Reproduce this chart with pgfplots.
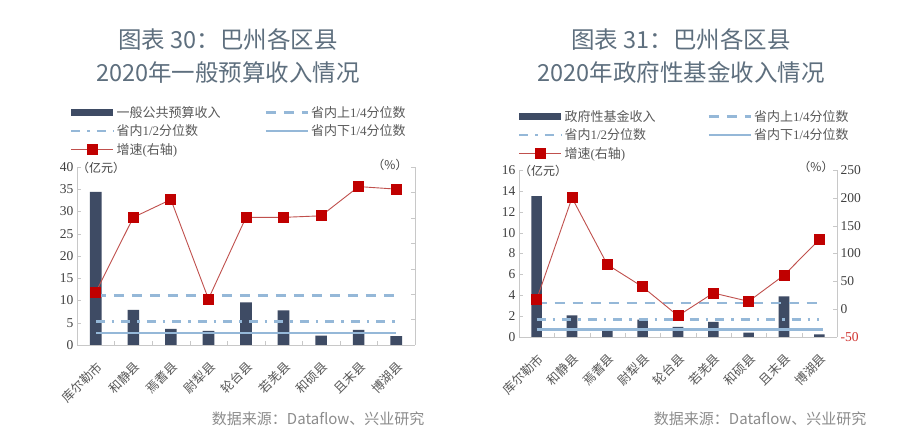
\documentclass[border=0pt]{standalone}
\usepackage{pgfplots}
\pgfplotsset{compat=1.18}
\usepackage{fontspec}
\setmainfont{Liberation Serif}
\newfontfamily\cjk{Noto Sans CJK SC}

\definecolor{barcol}{HTML}{3E4B64}
\definecolor{qcol}{HTML}{95B8D8}
\definecolor{redm}{HTML}{C00000}
\definecolor{redl}{HTML}{C0504D}
\definecolor{titlecol}{HTML}{5E6F7E}
\definecolor{axcol}{HTML}{C8C8C8}
\definecolor{tickcol}{HTML}{404040}
\definecolor{legcol}{HTML}{595959}
\definecolor{srccol}{HTML}{8C8C8C}
\definecolor{negred}{HTML}{D0312D}

\pgfplotsset{
  basechart/.style={
    scale only axis, xmin=-0.5, xmax=8.5,
    axis x line*=bottom, axis y line*=left,
    axis line style={draw=axcol, -},
    tick align=inside, major tick length=4pt, minor tick length=4pt,
    tick style={draw=axcol},
    xtick={0,...,8}, major x tick style={draw=none},
    minor xtick={-0.5,0.5,...,8.5},
    xticklabel style={yshift=-14pt, xshift=0pt, rotate=45, anchor=north east,
      font=\cjk\fontsize{12.5}{14}\selectfont, text=legcol, inner sep=1pt},
    yticklabel style={font=\fontsize{13.5}{16}\selectfont, text=tickcol},
    /pgf/number format/assume math mode=true,
    clip=false,
    legend style={draw=none, fill=none, anchor=north west,
      font=\fontsize{13}{15}\selectfont, text=legcol, row sep=2pt},
    legend cell align=left,
    legend columns=2,
    legend image code/.code={\draw[##1] (0pt,0pt) -- (42pt,0pt);},
  },
  twinchart/.style={
    scale only axis, xmin=-0.5, xmax=8.5,
    axis x line=none, axis y line*=right,
    axis line style={draw=axcol, -},
    tick align=inside, major tick length=4pt, tick style={draw=axcol},
    yticklabel style={font=\fontsize{13.5}{16}\selectfont, text=tickcol},
    clip=false,
  },
  qline/.style={color=qcol, line width=2.5pt},
  rate/.style={color=redl, line width=0.9pt, mark=square*, mark size=5pt,
    mark options={fill=redm, draw=redm, solid}},
  rateleg/.style={legend image code/.code={\draw[mark repeat=2,mark phase=2,##1] plot coordinates {(0pt,0pt) (21pt,0pt) (42pt,0pt)};}},
  barleg/.style={legend image code/.code={\fill[barcol] (0pt,-3.5pt) rectangle (42pt,3.5pt);}},
}

\begin{document}
\begin{tikzpicture}[x=1pt,y=1pt]
\path[use as bounding box, fill=white] (0,0) rectangle (900,444);

% titles
\node[font=\cjk\fontsize{23.5}{26}\selectfont, text=titlecol] at (228,404) {图表 30：巴州各区县};
\node[font=\cjk\fontsize{23.5}{26}\selectfont, text=titlecol] at (228,371) {2020年一般预算收入情况};
\node[font=\cjk\fontsize{23.5}{26}\selectfont, text=titlecol] at (681,404) {图表 31：巴州各区县};
\node[font=\cjk\fontsize{23.5}{26}\selectfont, text=titlecol] at (681,371) {2020年政府性基金收入情况};

% ---------- left chart ----------
\begin{axis}[basechart, at={(77pt,99pt)}, anchor=south west,
  width=338pt, height=178pt,
  ymin=0, ymax=40, ytick={0,5,...,40},
  xticklabels={库尔勒市,和静县,焉耆县,尉犁县,轮台县,若羌县,和硕县,且末县,博湖县},
  legend style={at={(-0.03,1.365)}, /tikz/every even column/.append style={column sep=42pt}}]
\addplot[ybar, bar width=0.31, fill=barcol, draw=none, barleg]
  coordinates {(0,34.4) (1,7.9) (2,3.6) (3,3.15) (4,9.6) (5,7.8) (6,2.1) (7,3.4) (8,2.0)};
\addlegendentry{{\cjk 一般公共预算收入}}
\addplot[qline, dash pattern=on 10pt off 8pt] coordinates {(0,11.1) (8,11.1)};
\addlegendentry{{\cjk 省内上}1/4{\cjk 分位数}}
\addplot[qline, dash pattern=on 9pt off 7pt on 2.5pt off 7pt] coordinates {(0,5.3) (8,5.3)};
\addlegendentry{{\cjk 省内}1/2{\cjk 分位数}}
\addplot[qline] coordinates {(0,2.7) (8,2.7)};
\addlegendentry{{\cjk 省内下}1/4{\cjk 分位数}}
\addlegendimage{rate, rateleg}
\addlegendentry{{\cjk 增速}({\cjk 右轴})}
\node[anchor=west, inner sep=0pt, font=\cjk\fontsize{12}{14}\selectfont, text=tickcol] at (rel axis cs:0,0.995) {（亿元）};
\node[inner sep=0pt, font=\cjk\fontsize{12}{14}\selectfont, text=tickcol] at (rel axis cs:0.926,1.01) {（\%）};
\end{axis}
\begin{axis}[twinchart, at={(77pt,99pt)}, anchor=south west,
  width=338pt, height=178pt,
  ymin=0, ymax=70, ytick={0,10,...,70},
  yticklabel style={opacity=0}]
\addplot[rate] coordinates {(0,20.7) (1,50.2) (2,57.2) (3,18.1) (4,50.2) (5,50.2) (6,50.8) (7,62.3) (8,61.3)};
\end{axis}

% ---------- right chart ----------
\begin{axis}[basechart, at={(519pt,107pt)}, anchor=south west,
  width=318pt, height=167pt,
  ymin=0, ymax=16, ytick={0,2,...,16},
  xticklabels={库尔勒市,和静县,焉耆县,尉犁县,轮台县,若羌县,和硕县,且末县,博湖县},
  legend style={at={(-0.013,1.383)}, /tikz/every even column/.append style={column sep=50pt}}]
\addplot[ybar, bar width=0.30, fill=barcol, draw=none, barleg]
  coordinates {(0,13.5) (1,2.08) (2,0.64) (3,1.66) (4,0.96) (5,1.44) (6,0.42) (7,3.9) (8,0.25)};
\addlegendentry{{\cjk 政府性基金收入}}
\addplot[qline, dash pattern=on 10pt off 8pt] coordinates {(0,3.25) (8,3.25)};
\addlegendentry{{\cjk 省内上}1/4{\cjk 分位数}}
\addplot[qline, dash pattern=on 9pt off 7pt on 2.5pt off 7pt] coordinates {(0,1.7) (8,1.7)};
\addlegendentry{{\cjk 省内}1/2{\cjk 分位数}}
\addplot[qline] coordinates {(0,0.74) (8.1,0.74)};
\addlegendentry{{\cjk 省内下}1/4{\cjk 分位数}}
\addlegendimage{rate, rateleg}
\addlegendentry{{\cjk 增速}({\cjk 右轴})}
\node[anchor=west, inner sep=0pt, font=\cjk\fontsize{12}{14}\selectfont, text=tickcol] at (rel axis cs:0,0.995) {（亿元）};
\node[inner sep=0pt, font=\cjk\fontsize{12}{14}\selectfont, text=tickcol] at (rel axis cs:0.934,1.018) {（\%）};
\end{axis}
\begin{axis}[twinchart, at={(519pt,107pt)}, anchor=south west,
  width=318pt, height=167pt,
  ymin=-50, ymax=250, ytick={-50,0,50,100,150,200,250},
  yticklabels={\textcolor{negred}{-50},0,50,100,150,200,250}]
\addplot[rate] coordinates {(0,17.4) (1,200) (2,80) (3,40) (4,-12) (5,29) (6,14) (7,61) (8,125)};
\end{axis}

% sources
\node[anchor=east, font=\cjk\fontsize{15}{17}\selectfont, text=srccol] at (428,25) {数据来源：Dataflow、兴业研究};
\node[anchor=east, font=\cjk\fontsize{15}{17}\selectfont, text=srccol] at (870,25) {数据来源：Dataflow、兴业研究};
\end{tikzpicture}
\end{document}
